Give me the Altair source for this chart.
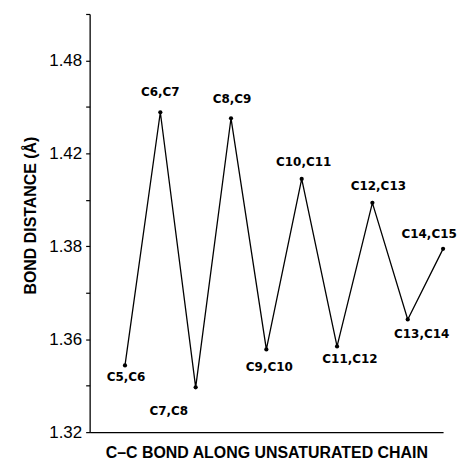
import altair as alt
import pandas as pd

# Data
bond_labels = ["C5,C6", "C6,C7", "C7,C8", "C8,C9", "C9,C10",
               "C10,C11", "C11,C12", "C12,C13", "C13,C14", "C14,C15"]
bond_index = [1, 2, 3, 4, 5, 6, 7, 8, 9, 10]
bond_distance = [1.3487, 1.4577, 1.3393, 1.4551, 1.3556,
                 1.4290, 1.3569, 1.4187, 1.3685, 1.3989]

# Axis ticks (as printed on the original figure)
tick_values = [1.32, 1.34, 1.36, 1.38, 1.40, 1.42, 1.44, 1.46, 1.48, 1.50]
label_positions = [1.32, 1.36, 1.40, 1.44, 1.48]
label_texts = ["1.32", "1.36", "1.38", "1.42", "1.48"]

df = pd.DataFrame({"idx": bond_index, "dist": bond_distance, "label": bond_labels})

# label placement (style only)
label_offsets = {
    "C5,C6": (1, 12), "C6,C7": (0, -20), "C7,C8": (-27, 24), "C8,C9": (1, -19),
    "C9,C10": (3, 18), "C10,C11": (2, -17), "C11,C12": (13, 13),
    "C12,C13": (6, -17), "C13,C14": (14, 15), "C14,C15": (-14, -15),
}

label_expr = " : ".join(
    f"abs(datum.value - {p}) < 0.001 ? '{t}'" for p, t in zip(label_positions, label_texts)
) + " : ''"

x_enc = alt.X("idx:Q", scale=alt.Scale(domain=[0, 10], nice=False, zero=False),
              axis=alt.Axis(title="C\u2013C BOND ALONG UNSATURATED CHAIN", ticks=False, labels=False,
                            grid=False, domainColor="black", domainWidth=1.3,
                            titleFont="Liberation Sans", titleFontSize=16, titleFontWeight="bold",
                            titleColor="black", titlePadding=12))
y_enc = alt.Y("dist:Q", scale=alt.Scale(domain=[1.32, 1.50], nice=False, zero=False),
              axis=alt.Axis(title="BOND DISTANCE (\u00c5)", values=tick_values, labelExpr=label_expr,
                            grid=False, domainColor="black", domainWidth=1.3, tickColor="black",
                            tickSize=4, tickWidth=1.2, labelPadding=4,
                            labelFont="Liberation Sans", labelFontSize=17, labelColor="black",
                            titleFont="Liberation Sans", titleFontSize=16, titleFontWeight="bold",
                            titleColor="black", titlePadding=10, titleY=202))

base = alt.Chart(df)
line = base.mark_line(color="black", strokeWidth=1.3).encode(x=x_enc, y=y_enc)
pts = base.mark_point(filled=True, color="black", size=18, opacity=1).encode(x="idx:Q", y="dist:Q")

texts = []
for name in bond_labels:
    dx, dy = label_offsets[name]
    texts.append(
        base.transform_filter(alt.datum.label == name)
        .mark_text(font="DejaVu Sans", fontSize=12, fontWeight="bold", color="black",
                   dx=dx, dy=dy, align="center", baseline="middle")
        .encode(x="idx:Q", y="dist:Q", text="label:N")
    )

chart = alt.layer(line, pts, *texts).properties(
    width=355, height=420,
    autosize=alt.AutoSizeParams(type="none"),
    padding={"left": 82, "top": 5, "right": 16, "bottom": 31},
    background="white",
).configure_view(stroke=None)

chart.save("out.html", embed_options={"renderer": "svg", "actions": False})
